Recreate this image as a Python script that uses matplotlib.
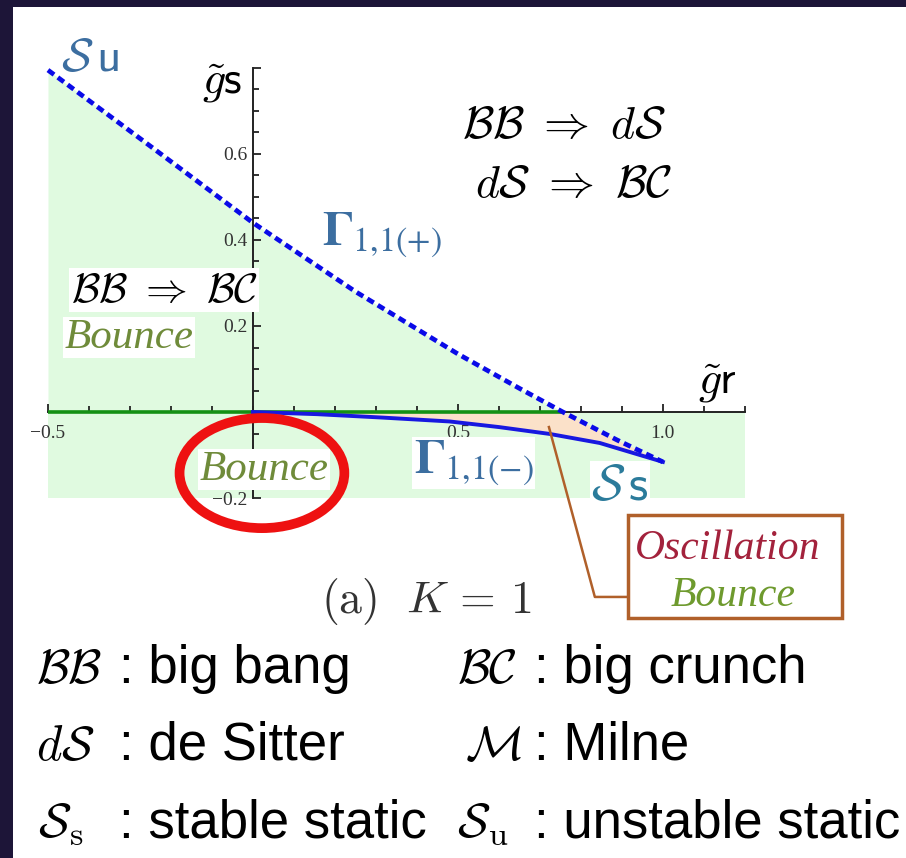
import matplotlib

matplotlib.use("Agg")
import matplotlib.pyplot as plt
import numpy as np
from matplotlib.patches import Ellipse, Rectangle

plt.rcParams["mathtext.fontset"] = "cm"

# phase boundaries in the (g_r, g_s) plane, K = 1
gamma_plus_r = [-0.5, -0.25, 0.0, 0.25, 0.5, 0.65, 0.756, 0.888, 1.0]
gamma_plus_s = [0.795, 0.618, 0.44, 0.28, 0.135, 0.055, 0.0, -0.065, -0.116]
gamma_minus_r = [0.0, 0.156, 0.317, 0.48, 0.6, 0.724, 0.846, 1.0]
gamma_minus_s = [0.0, -0.005, -0.013, -0.022, -0.035, -0.051, -0.072, -0.116]
CROSS = 6  # index where Gamma(+) meets the g_r axis

x_range = [-0.5, 1.2]
y_range = [-0.2, 0.8]
x_major = [-0.5, 0.5, 1.0]
x_major_labels = ["\u22120.5", "0.5", "1.0"]
y_major = [-0.2, 0.2, 0.4, 0.6, 0.8]
y_major_labels = ["\u22120.2", "0.2", "0.4", "0.6", ""]

legend_symbols = [r"$\mathcal{BB}$", r"$\mathcal{BC}$", r"$d\mathcal{S}$",
                  r"$\mathcal{M}$", r"$\mathcal{S}_{\mathrm{s}}$", r"$\mathcal{S}_{\mathrm{u}}$"]
legend_meanings = ["big bang", "big crunch", "de Sitter", "Milne",
                   "stable static", "unstable static"]

W, H = 906, 858
GREEN_FILL = "#e0fae0"
PEACH = "#fbe1c9"
STEEL = "#3c6ea0"
OLIVE = "#6f8b3a"
BROWN = "#b0602a"
NAVY = "#1d1538"


def fig_xy(px, py):
    return px / W, 1 - py / H


fig = plt.figure(figsize=(W / 100, H / 100), dpi=100)
fig.patch.set_facecolor("white")
ax = fig.add_axes([0, 0, 1, 1])
ax.set_facecolor("none")
ax.set_xlim(-0.617, 1.593)
ax.set_ylim(-1.037, 0.958)

# regions
ax.fill_between(gamma_plus_r[:CROSS + 1], 0, gamma_plus_s[:CROSS + 1],
                color=GREEN_FILL, lw=0, zorder=1)
ax.fill_between(x_range, y_range[0], 0, color=GREEN_FILL, lw=0, zorder=1)
upper = list(zip([0.0] + gamma_plus_r[CROSS:], [0.0] + gamma_plus_s[CROSS:]))
lower = list(zip(gamma_minus_r, gamma_minus_s))[::-1]
poly_x = [p[0] for p in upper + lower]
poly_y = [p[1] for p in upper + lower]
ax.fill(poly_x, poly_y, color=PEACH, lw=0, zorder=1.5)

# axes through the origin
for side in ["top", "right"]:
    ax.spines[side].set_visible(False)
ax.spines["left"].set_position(("data", 0))
ax.spines["bottom"].set_position(("data", 0))
ax.spines["left"].set_bounds(*y_range)
ax.spines["bottom"].set_bounds(*x_range)
for side in ["left", "bottom"]:
    ax.spines[side].set_linewidth(1.4)
    ax.spines[side].set_color("#222222")
ax.set_xticks(x_major, x_major_labels)
ax.set_xticks(np.round(np.arange(-0.5, 1.201, 0.1), 2), minor=True)
ax.set_yticks(y_major, y_major_labels)
ax.set_yticks(np.round(np.arange(-0.2, 0.801, 0.05), 2), minor=True)
ax.tick_params(which="both", direction="in", width=1.3, color="#222222",
               labelsize=14, labelcolor="#333333")
ax.tick_params(which="major", length=6)
ax.tick_params(which="minor", length=4)
ax.tick_params(axis="x", pad=9)
ax.tick_params(axis="y", pad=4)
for lab in ax.get_xticklabels() + ax.get_yticklabels():
    lab.set_family("Liberation Serif")

ax.plot([x_range[0], gamma_plus_r[CROSS]], [0, 0], color="#149014", lw=2.6,
        solid_capstyle="butt", zorder=3)
ax.plot(gamma_minus_r, gamma_minus_s, color="#1818e0", lw=2.8, zorder=4)
ax.plot(gamma_plus_r, gamma_plus_s, color="#0a0ae8", lw=3.4,
        linestyle=(0, (1.6, 1.0)), zorder=4)

# labels on the diagram
ax.text(-0.398, 0.793, r"$\mathcal{S}\,\mathsf{u}$", fontsize=34, color=STEEL,
        ha="center", va="baseline")
ax.text(-0.074, 0.74, r"$\tilde{g}\mathsf{s}$", fontsize=33,
        ha="center", va="baseline")
ax.text(1.134, 0.044, r"$\tilde{g}\mathsf{r}$", fontsize=33,
        ha="center", va="baseline")
ax.text(0.168, 0.388, r"$\mathbf{\Gamma}_{\mathrm{1{,}1(+)}}$", fontsize=35,
        color=STEEL, ha="left", va="baseline", math_fontfamily="stix")
ax.text(0.392, -0.142, r"$\mathbf{\Gamma}_{\mathrm{1{,}1(-)}}$", fontsize=35,
        color=STEEL, ha="left", va="baseline", zorder=5, math_fontfamily="stix",
        bbox=dict(fc="white", ec="none", pad=1))
ax.text(0.895, -0.205, r"$\mathcal{S}\,\mathsf{s}$", fontsize=36,
        color="#2b7b9b", ha="center", va="baseline", zorder=5,
        bbox=dict(fc="white", ec="none", pad=1))
ax.text(0.759, 0.637, r"$\mathcal{BB}\ \Rightarrow\ d\mathcal{S}$", fontsize=33,
        ha="center", va="baseline")
ax.text(0.783, 0.5, r"$d\mathcal{S}\ \Rightarrow\ \mathcal{BC}$", fontsize=33,
        ha="center", va="baseline")
ax.text(-0.217, 0.256, r"$\mathcal{BB}\ \Rightarrow\ \mathcal{BC}$", fontsize=30,
        ha="center", va="baseline", zorder=5,
        bbox=dict(fc="white", ec="none", pad=1))
bounce_style = dict(fontsize=31, color=OLIVE, family="Liberation Serif",
                    style="italic", ha="center", va="baseline", zorder=5,
                    bbox=dict(fc="white", ec="none", pad=1))
ax.text(-0.302, 0.149, "Bounce", **bounce_style)
ax.text(0.027, -0.158, "Bounce", **bounce_style)

ax.add_patch(Ellipse((0.022, -0.142), 0.402, 0.256, fill=False,
                     ec="#ee1111", lw=7, zorder=6))

# callout for the oscillating region
ax.plot([0.722, 0.834, 0.915], [-0.035, -0.43, -0.43], color=BROWN, lw=1.8,
        zorder=4)
ax.add_patch(Rectangle((0.915, -0.479), 0.522, 0.239, fc="white", ec=BROWN,
                       lw=2.5, zorder=5))
ax.text(1.159, -0.342, "Oscillation", fontsize=30, color="#a3223c",
        family="Liberation Serif", style="italic", ha="center",
        va="baseline", zorder=6)
ax.text(1.171, -0.45, "Bounce", fontsize=30, color="#6e9a2e",
        family="Liberation Serif", style="italic", ha="center",
        va="baseline", zorder=6)

ax.text(0.424, -0.467, r"$\mathrm{(a)}\ \ K\,=\,1$", fontsize=33,
        color="#333333", ha="center", va="baseline")

# glossary of the symbols
sym_x = [36, 457, 36, 465, 38, 457]
text_x = [119, 534, 119, 534, 119, 534]
row_y = [683, 683, 760, 760, 837, 837]
for sym, meaning, sx, tx, ry in zip(legend_symbols, legend_meanings,
                                     sym_x, text_x, row_y):
    fig.text(*fig_xy(sx, ry), sym, fontsize=35, ha="left", va="baseline")
    fig.text(*fig_xy(tx, ry), ": " + meaning, fontsize=38,
             family="Liberation Sans", ha="left", va="baseline")

# dark slide frame
fig.patches.append(Rectangle((0, 0), 13 / W, 1, transform=fig.transFigure,
                             fc=NAVY, ec="none", zorder=10))
fig.patches.append(Rectangle((0, 1 - 7 / H), 1, 7 / H, transform=fig.transFigure,
                             fc=NAVY, ec="none", zorder=10))

fig.savefig("out.png", dpi=100)
